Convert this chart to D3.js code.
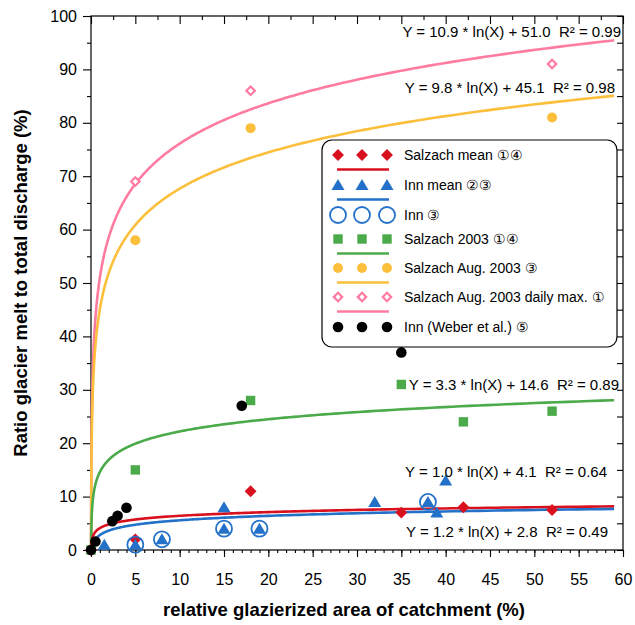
<!DOCTYPE html>
<html>
<head>
<meta charset="utf-8">
<script src="https://cdn.jsdelivr.net/npm/d3@7"></script>
<style>
  body { margin: 0; background: #fff; }
  svg text { font-family: "Liberation Sans", Arial, sans-serif; fill: #000; }
</style>
</head>
<body>
<svg id="chart" width="635" height="625"></svg>
<script>
// data
const salzachMean = [[0, 0], [5, 2], [18, 11], [35, 7], [42, 8], [52, 7.5]];
const innMean = [[1.5, 1], [5, 1], [8, 2], [15, 4], [15, 8], [19, 4], [32, 9], [38, 9], [39, 7], [40, 13]];
const innCircles = [[5, 1], [8, 2], [15, 4], [19, 4], [38, 9]];
const salzach2003 = [[0, 0], [5, 15], [18, 28], [35, 31], [42, 24], [52, 26]];
const salzachAug = [[5, 58], [18, 79], [52, 81]];
const salzachAugMax = [[5, 69], [18, 86], [52, 91]];
const innWeber = [[0, 0], [0.5, 1.6], [2.4, 5.4], [3, 6.4], [4, 7.9], [17, 27], [35, 37]];

// fitted curves: Y = a * ln(X) + b
const fits = [
  { name: "pink", a: 10.9, b: 51.0, r2: "0.99", color: "#ff7ba0" },
  { name: "orange", a: 9.8, b: 45.1, r2: "0.98", color: "#fbbf3c" },
  { name: "green", a: 3.3, b: 14.6, r2: "0.89", color: "#4bab4a" },
  { name: "red", a: 1.0, b: 4.1, r2: "0.64", color: "#d9101e" },
  { name: "blue", a: 1.2, b: 2.8, r2: "0.49", color: "#2371c8" }
];

const xTicks = d3.range(0, 61, 5);
const yTicks = d3.range(0, 101, 10);

const legendLabels = [
  "Salzach mean \u2460\u2463",
  "Inn mean \u2461\u2462",
  "Inn \u2462",
  "Salzach 2003 \u2460\u2463",
  "Salzach Aug. 2003 \u2462",
  "Salzach Aug. 2003 daily max. \u2460",
  "Inn (Weber et al.) \u2464"
];

const svg = d3.select("#chart");
const pLeft = 91, pRight = 623, pTop = 16, pBottom = 550;

const x = d3.scaleLinear().domain([0, 60]).range([pLeft, pRight]);
const y = d3.scaleLinear().domain([0, 100]).range([pBottom, pTop]);

// frame
svg.append("rect")
  .attr("x", pLeft).attr("y", pTop)
  .attr("width", pRight - pLeft).attr("height", pBottom - pTop)
  .attr("fill", "none").attr("stroke", "#000").attr("stroke-width", 1.2);

// axes
const axisStyle = (g) => {
  g.select(".domain").remove();
  g.selectAll("line").attr("stroke", "#000").attr("stroke-width", 1.1);
};

svg.append("g").attr("transform", `translate(0,${pBottom})`)
  .call(d3.axisBottom(x).tickValues(d3.range(0, 61, 1)).tickSize(3).tickFormat(""))
  .call(axisStyle);
svg.append("g").attr("transform", `translate(0,${pBottom})`)
  .call(d3.axisBottom(x).tickValues(xTicks).tickSize(7).tickPadding(17))
  .call(axisStyle)
  .selectAll("text").style("font-size", "16px");

svg.append("g").attr("transform", `translate(${pLeft},0)`)
  .call(d3.axisLeft(y).tickValues(d3.range(5, 100, 10)).tickSize(4).tickFormat(""))
  .call(axisStyle);
svg.append("g").attr("transform", `translate(${pLeft},0)`)
  .call(d3.axisLeft(y).tickValues(yTicks).tickSize(8).tickPadding(6))
  .call(axisStyle)
  .selectAll("text").style("font-size", "16px");

svg.append("g").attr("transform", `translate(0,${pTop})`)
  .call(d3.axisBottom(x).tickValues(d3.range(2.5, 60, 5)).tickSize(4).tickFormat(""))
  .call(axisStyle);
svg.append("g").attr("transform", `translate(0,${pTop})`)
  .call(d3.axisBottom(x).tickValues(xTicks).tickSize(8).tickFormat(""))
  .call(axisStyle);

svg.append("g").attr("transform", `translate(${pRight},0)`)
  .call(d3.axisLeft(y).tickValues(d3.range(0, 101, 5)).tickSize(6).tickFormat(""))
  .call(axisStyle);

// axis titles
svg.append("text")
  .attr("x", (pLeft + pRight) / 2 - 13).attr("y", 616)
  .attr("text-anchor", "middle")
  .style("font-size", "18.5px").style("font-weight", "bold")
  .text("relative glazierized area of catchment (%)");

svg.append("text")
  .attr("transform", `translate(27,${(pTop + pBottom) / 2}) rotate(-90)`)
  .attr("text-anchor", "middle")
  .style("font-size", "18.5px").style("font-weight", "bold")
  .text("Ratio glacier melt to total discharge (%)");

// fit curves
const line = d3.line().x((d) => x(d[0])).y((d) => y(d[1]));
const xs = d3.range(-2, Math.log10(59) + 1e-9, 0.01).map((t) => Math.pow(10, t)).concat([59]);

svg.append("g").selectAll("path")
  .data(fits)
  .enter()
  .append("path")
  .attr("fill", "none")
  .attr("stroke", (d) => d.color)
  .attr("stroke-width", 2.6)
  .attr("d", (d) => line(xs.map((v) => [v, d.a * Math.log(v) + d.b]).filter((p) => p[1] >= 0)));

// markers
const drawSeries = (data, draw) => {
  const g = svg.append("g");
  g.selectAll("g").data(data).enter().append("g")
    .attr("transform", (d) => `translate(${x(d[0])},${y(d[1])})`)
    .each(function () { draw(d3.select(this)); });
};

const markers = {
  green: (s) => s.append("rect").attr("x", -4.7).attr("y", -4.7).attr("width", 9.4).attr("height", 9.4).attr("fill", "#4bab4a"),
  red: (s) => s.append("rect").attr("x", -4.2).attr("y", -4.2).attr("width", 8.4).attr("height", 8.4)
    .attr("transform", "rotate(45)").attr("fill", "#d9101e"),
  blueTri: (s) => s.append("path").attr("d", "M0,-6L6.5,5L-6.5,5Z").attr("fill", "#2371c8"),
  blueCircle: (s) => s.append("circle").attr("r", 8).attr("fill", "none").attr("stroke", "#2371c8").attr("stroke-width", 1.8),
  orange: (s) => s.append("circle").attr("r", 5).attr("fill", "#fbbf3c"),
  pink: (s) => s.append("rect").attr("x", -3).attr("y", -3).attr("width", 6).attr("height", 6)
    .attr("transform", "rotate(45)").attr("fill", "#fff").attr("stroke", "#ff7ba0").attr("stroke-width", 2.2),
  black: (s) => s.append("circle").attr("r", 5.3).attr("fill", "#000")
};

drawSeries(salzach2003, markers.green);
drawSeries(salzachAug, markers.orange);
drawSeries(salzachAugMax, markers.pink);
drawSeries(salzachMean, markers.red);
drawSeries(innMean, markers.blueTri);
drawSeries(innCircles, markers.blueCircle);
drawSeries(innWeber, markers.black);

// equations
const eqPos = [[621, 37], [615, 93], [619, 390], [607, 477], [608, 537]];
svg.append("g").selectAll("text")
  .data(fits)
  .enter()
  .append("text")
  .attr("x", (d, i) => eqPos[i][0])
  .attr("y", (d, i) => eqPos[i][1])
  .attr("text-anchor", "end")
  .style("font-size", "15px")
  .style("white-space", "pre")
  .text((d) => `Y = ${d.a.toFixed(1)} * ln(X) + ${d.b.toFixed(1)}  R\u00b2 = ${d.r2}`);

// legend
const lg = svg.append("g");
lg.append("rect")
  .attr("x", 322).attr("y", 140).attr("width", 295).attr("height", 207).attr("rx", 10)
  .attr("fill", "#fff").attr("stroke", "#000").attr("stroke-width", 1.2);

const legendRows = [
  { y: 155, m: markers.red, line: "#d9101e" },
  { y: 185, m: markers.blueTri, line: "#2371c8" },
  { y: 215, m: markers.blueCircle, line: null },
  { y: 239, m: markers.green, line: "#4bab4a" },
  { y: 268, m: markers.orange, line: "#fbbf3c" },
  { y: 297, m: markers.pink, line: "#ff7ba0" },
  { y: 327, m: markers.black, line: null }
];
const symX = [338, 362, 387];

legendRows.forEach((row, i) => {
  symX.forEach((sx) => {
    const s = lg.append("g").attr("transform", `translate(${sx},${row.y})`);
    row.m(s);
  });
  if (row.line) {
    lg.append("line")
      .attr("x1", 337).attr("x2", 389)
      .attr("y1", row.y + 14.5).attr("y2", row.y + 14.5)
      .attr("stroke", row.line).attr("stroke-width", 2.6);
  }
  lg.append("text")
    .attr("x", 404).attr("y", row.y + 5)
    .style("font-size", "14px")
    .text(legendLabels[i]);
});
</script>
</body>
</html>
